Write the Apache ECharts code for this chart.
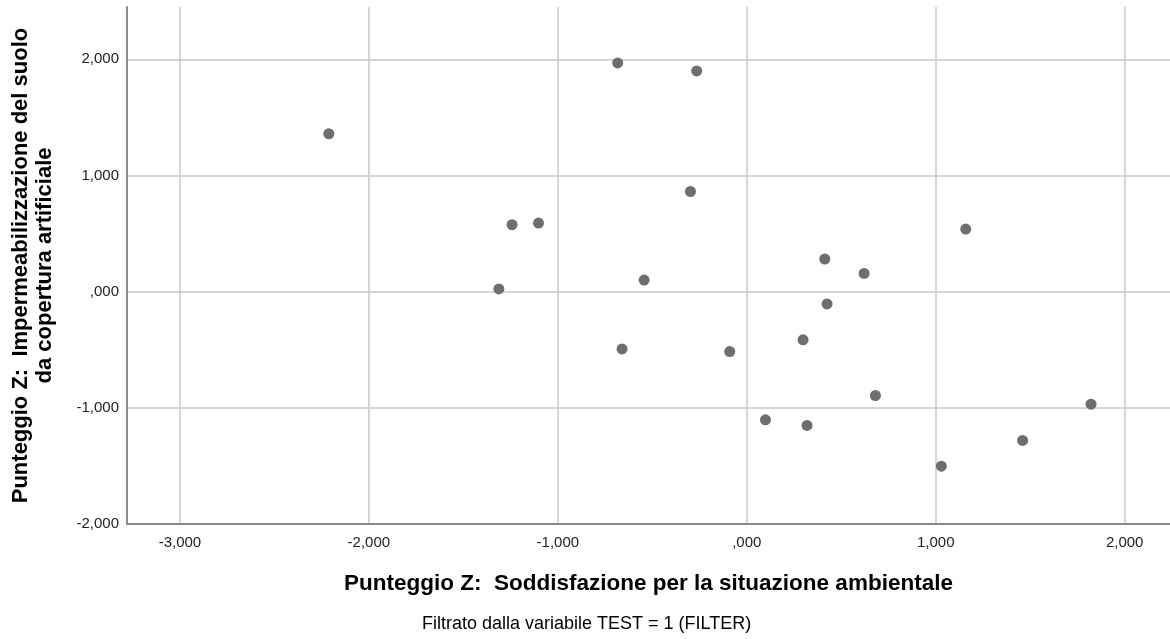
<!DOCTYPE html>
<html>
<head>
<meta charset="utf-8">
<script src="https://cdn.jsdelivr.net/npm/echarts@6/dist/echarts.min.js"></script>
<style>
  html, body { margin: 0; padding: 0; background: #fff; }
  #chart { width: 1170px; height: 639px; }
</style>
</head>
<body>
<div id="chart"></div>
<script>
// Z scores
const soddisfazione = [
  -2.212, -0.683, -0.265, -0.298, -1.242, -1.102, -1.312, -0.543,
  1.159, 0.413, 0.621, 0.425, -0.660, -0.090, 0.298, 0.681,
  0.099, 0.319, 1.822, 1.460, 1.030
];
const impermeabilizzazione = [
  1.359, 1.969, 1.900, 0.862, 0.576, 0.590, 0.023, 0.100,
  0.539, 0.281, 0.157, -0.106, -0.493, -0.516, -0.415, -0.894,
  -1.103, -1.152, -0.969, -1.281, -1.502
];

const xName = "Punteggio Z:  Soddisfazione per la situazione ambientale";
const yName = "Punteggio Z:  Impermeabilizzazione del suolo\nda copertura artificiale";
const footnote = "Filtrato dalla variabile TEST = 1 (FILTER)";

const points = soddisfazione.map((x, i) => [x, impermeabilizzazione[i]]);

// SPSS style: 3 decimals, comma, no leading zero
function fmt(v) {
  let s = Math.abs(v).toFixed(3).replace(".", ",");
  if (s.startsWith("0")) s = s.slice(1);
  return (v < 0 ? "-" : "") + s;
}

const font = "'Liberation Sans', Arial, sans-serif";

const chart = echarts.init(document.getElementById("chart"));
chart.setOption({
  animation: false,
  textStyle: { fontFamily: font },
  grid: { left: 127, right: 0, top: 7, bottom: 115 },
  graphic: [
    {
      type: "text",
      left: 422,
      top: 615,
      style: { text: footnote, font: "18px " + font, fill: "#000" },
    },
  ],
  xAxis: {
    type: "value",
    min: -3.28,
    max: 2.24,
    splitNumber: 5,
    minInterval: 1,
    maxInterval: 1,
    name: xName,
    nameLocation: "middle",
    nameGap: 48,
    nameTextStyle: { fontSize: 22.5, fontWeight: "bold", color: "#000", fontFamily: font },
    axisLine: { onZero: false, lineStyle: { color: "#8a8a8a", width: 2 } },
    axisTick: { show: false },
    axisLabel: {
      formatter: fmt,
      color: "#222",
      fontSize: 15,
      margin: 11,
      showMinLabel: false,
      showMaxLabel: false,
    },
    splitLine: {
      lineStyle: { color: "#c9c9c9", width: 1.5 },
      showMinLine: false,
      showMaxLine: false,
    },
  },
  yAxis: {
    type: "value",
    min: -2,
    max: 2.45,
    splitNumber: 5,
    minInterval: 1,
    maxInterval: 1,
    name: yName,
    nameLocation: "middle",
    nameRotate: 90,
    nameGap: 70,
    nameTextStyle: {
      fontSize: 22,
      fontWeight: "bold",
      color: "#000",
      fontFamily: font,
      lineHeight: 24,
      align: "center",
    },
    axisLine: { show: true, onZero: false, lineStyle: { color: "#8a8a8a", width: 2 } },
    axisTick: { show: false },
    axisLabel: {
      formatter: fmt,
      color: "#222",
      fontSize: 15,
      margin: 8,
      padding: [5, 0, 0, 0],
      showMaxLabel: false,
    },
    splitLine: {
      lineStyle: { color: "#c9c9c9", width: 1.5 },
      showMinLine: false,
      showMaxLine: false,
    },
  },
  series: [
    {
      type: "scatter",
      data: points,
      symbolSize: 11,
      itemStyle: { color: "#6e6e6e", opacity: 1 },
    },
  ],
});
</script>
</body>
</html>
